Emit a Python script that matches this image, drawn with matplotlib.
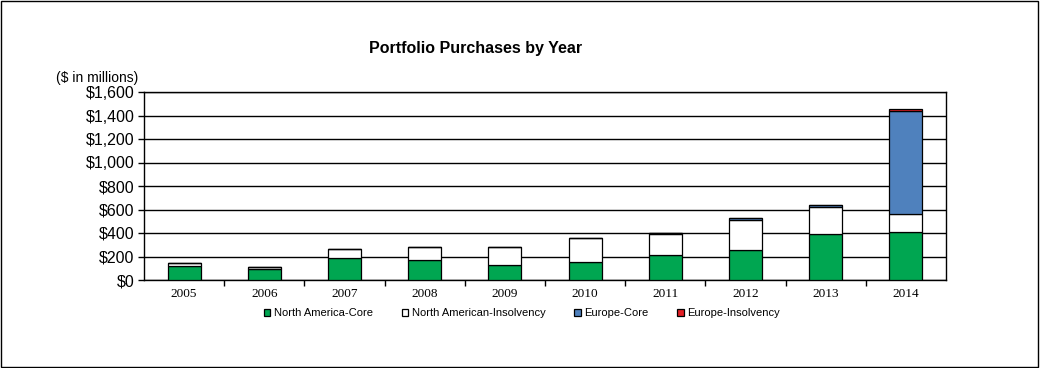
import matplotlib.pyplot as plt
import numpy as np
from matplotlib.patches import Rectangle
from matplotlib.ticker import FuncFormatter, FixedLocator

years = ['2005', '2006', '2007', '2008', '2009', '2010', '2011', '2012', '2013', '2014']
na_core = [119, 94, 184, 167, 125, 150, 210, 252, 389, 406]
na_insolvency = [26, 17, 77, 111, 153, 205, 181, 256, 232, 153]
europe_core = [0, 0, 0, 0, 0, 0, 5, 17, 15, 882]
europe_insolvency = [0, 0, 0, 0, 0, 0, 0, 0, 0, 12]

series = [
    ('North America-Core', na_core, '#00A651'),
    ('North American-Insolvency', na_insolvency, '#FFFFFF'),
    ('Europe-Core', europe_core, '#4F81BD'),
    ('Europe-Insolvency', europe_insolvency, '#E31E24'),
]

plt.rcParams['font.family'] = ['Liberation Sans', 'DejaVu Sans']

fig = plt.figure(figsize=(10.4, 3.68), dpi=100)
ax = fig.add_axes([144 / 1040, 1 - 280 / 368, 802 / 1040, 188 / 368])

x = np.arange(len(years))
bottom = np.zeros(len(years))
for name, vals, color in series:
    vals = np.array(vals, dtype=float)
    ax.bar(x, vals, 0.41, bottom=bottom, color=color, edgecolor='black',
           linewidth=0.9, label=name, zorder=3)
    bottom += vals

ax.set_xlim(-0.5, len(years) - 0.5)
ax.set_ylim(0, 1600)
ax.set_yticks(np.arange(0, 1601, 200))
ax.yaxis.set_major_formatter(FuncFormatter(lambda v, p: f'${v:,.0f}'))
ax.grid(axis='y', color='black', linewidth=1, zorder=0)
ax.tick_params(axis='y', labelsize=11.5, length=4, width=1, direction='out', pad=3)

ax.set_xticks(x)
ax.set_xticklabels(years, family='Liberation Serif', fontsize=9.5)
ax.tick_params(axis='x', which='major', length=0, pad=6)
ax.xaxis.set_minor_locator(FixedLocator(np.arange(0.5, len(years) - 1, 1)))
ax.tick_params(axis='x', which='minor', length=4, width=1, direction='out')

for s in ax.spines.values():
    s.set_color('black')
    s.set_linewidth(1)

fig.text(476 / 1040, 1 - 48 / 368, 'Portfolio Purchases by Year', ha='center',
         va='center', fontsize=11.5, fontweight='bold')
fig.text(97 / 1040, 1 - 78 / 368, '($ in millions)', ha='center', va='center',
         fontsize=10)

handles, labels = ax.get_legend_handles_labels()
fig.legend(handles, labels, loc='center', bbox_to_anchor=(522 / 1040, 1 - 313 / 368),
           ncol=4, frameon=False, fontsize=8, handlelength=0.6, handleheight=0.6,
           handletextpad=0.3, columnspacing=2.6)

fig.patches.append(Rectangle((0.001, 0.002), 0.997, 0.995, transform=fig.transFigure,
                             fill=False, edgecolor='black', linewidth=1))

fig.savefig('out.png', dpi=100)
